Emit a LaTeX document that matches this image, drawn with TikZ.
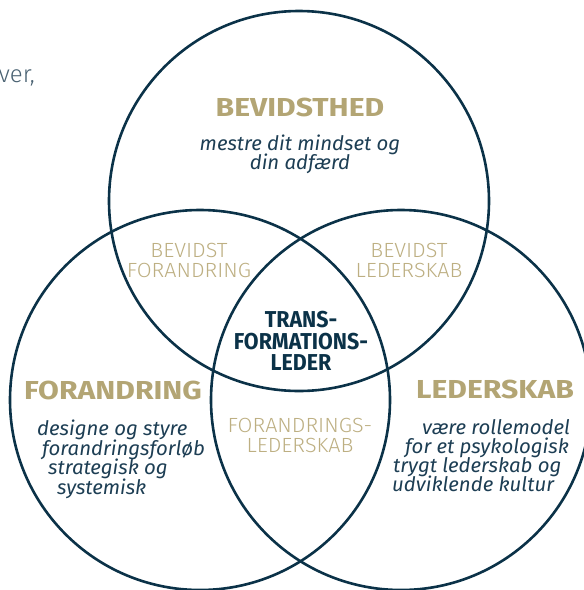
\documentclass[tikz,border=0pt]{standalone}
\usepackage{fontspec}
\setmainfont{Fira Sans}
\newfontfamily\firalight{Fira Sans Light}
\usetikzlibrary{positioning}

\definecolor{navy}{HTML}{0B3248}
\definecolor{gold}{HTML}{B3A574}
\definecolor{lightgold}{HTML}{BDAF82}
\definecolor{slate}{HTML}{1D3E54}
\definecolor{greyblue}{HTML}{4A6272}

\begin{document}
\begin{tikzpicture}[x=1pt,y=-1pt,
        ring/.style={draw=navy, line width=2.6pt},
        heading/.style={text=gold, font=\bfseries\addfontfeature{FakeStretch=1.16}\fontsize{26}{26}\selectfont, inner sep=0pt, anchor=base},
        blurb/.style={text=slate, font=\itshape\addfontfeature{FakeStretch=1.02}\fontsize{20}{20}\selectfont, inner sep=0pt, anchor=base west},
        blurbmid/.style={blurb, anchor=base},
        overlap/.style={text=lightgold, font=\firalight\addfontfeature{FakeStretch=1.05}\fontsize{20.5}{20}\selectfont, align=center, inner sep=0pt, anchor=north},
        core/.style={text=navy, font=\bfseries\addfontfeature{FakeStretch=0.93}\fontsize{23}{21.5}\selectfont, align=center, inner sep=0pt, anchor=north}]
        \useasboundingbox (0,0) rectangle (584,590);
        \clip (0,0) rectangle (584,590);

        % cut-off text on the left
        \node[text=greyblue, font=\firalight\fontsize{24}{24}\selectfont, inner sep=0pt, anchor=base east] (cut) at (35,82) {ver,};

        % the three circles
        \draw[ring] (299,201) circle[radius=190pt]; % Bevidsthed
        \draw[ring] (200,400) circle[radius=190pt]; % Forandring
        \draw[ring] (401,400) circle[radius=190pt]; % Lederskab

        % top circle
        \node[heading] (bevidsthed) at (300,116) {BEVIDSTHED};
        \node[blurbmid] (bev1) at (300,150) {mestre dit mindset og};
        \node[blurbmid] (bev2) at (300,169) {din adfærd};

        % left circle
        \node[heading] (forandring) at (113,399) {FORANDRING};
        \node[blurb] (for1) at (37,435) {designe og styre};
        \node[blurb] (for2) at (42,455) {forandringsforløb};
        \node[blurb] (for3) at (48,474) {strategisk og};
        \node[blurb] (for4) at (57,494) {systemisk};

        % right circle
        \node[heading] (lederskab) at (495,398) {LEDERSKAB};
        \node[blurb] (led1) at (422,434) {være rollemodel};
        \node[blurb] (led2) at (405,453) {for et psykologisk};
        \node[blurb] (led3) at (393,472) {trygt lederskab og};
        \node[blurb] (led4) at (392,491) {udviklende kultur};

        % the overlaps
        \node[overlap] (bevfor) at (189,243) {BEVIDST\\FORANDRING};
        \node[overlap] (bevled) at (409,243) {BEVIDST\\LEDERSKAB};
        \node[overlap] (forled) at (300,418) {FORANDRINGS-\\LEDERSKAB};
        \node[core] (center) at (301,311) {TRANS-\\FORMATIONS-\\LEDER};
\end{tikzpicture}
\end{document}
